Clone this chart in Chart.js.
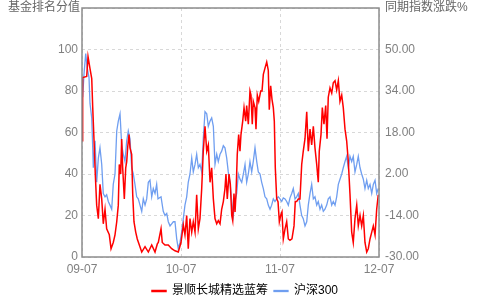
<!DOCTYPE html>
<html>
<head>
<meta charset="utf-8">
<script src="https://cdn.jsdelivr.net/npm/chart.js@4/dist/chart.umd.min.js"></script>
<style>
  html, body { margin: 0; padding: 0; background: #fff; }
  #wrap { width: 490px; height: 300px; position: relative; }
</style>
</head>
<body>
<div id="wrap"><canvas id="chart"></canvas></div>
<script>
// x = months since 2009-07
const tickLabels = ["09-07", "10-07", "11-07", "12-07"];
const seriesNames = ["景顺长城精选蓝筹", "沪深300"];
const axisTitles = ["基金排名分值", "同期指数涨跌%"];

// fund ranking score (left axis, 0-100)
const fundMonths = [0,0.08,0.57,0.73,0.97,1.18,1.3,1.45,1.61,1.78,1.98,2.18,2.39,2.58,2.79,2.99,3.31,3.52,3.79,4,4.21,4.4,4.52,4.69,4.81,4.93,5.13,5.3,5.42,5.54,5.7,5.82,6.02,6.15,6.3,6.51,6.7,6.95,7.24,7.64,8.04,8.45,8.85,9.13,9.25,9.58,9.73,10.06,10.46,10.87,11.27,11.67,12,12.28,12.48,12.69,12.88,13.09,13.3,13.49,13.7,13.9,14.1,14.3,14.51,14.7,14.91,15.12,15.31,15.52,15.72,15.92,16.12,16.33,16.52,16.73,16.93,17.13,17.33,17.45,17.61,17.82,17.98,18.15,18.27,18.42,18.55,18.67,18.82,18.99,19.15,19.27,19.48,19.64,19.84,19.96,20.16,20.36,20.48,20.64,20.76,20.97,21.09,21.25,21.42,21.66,21.82,21.98,22.18,22.39,22.58,22.7,22.87,23.03,23.19,23.31,23.43,23.6,23.76,23.92,24.08,24.24,24.4,24.61,24.81,25.01,25.21,25.45,25.7,25.85,26.02,26.22,26.42,26.63,26.82,27.03,27.24,27.43,27.64,27.84,28.04,28.24,28.45,28.64,28.76,28.97,29.13,29.33,29.54,29.7,29.85,30.06,30.27,30.46,30.67,30.87,31.07,31.27,31.48,31.67,31.88,32.08,32.28,32.48,32.69,32.88,33.09,33.3,33.49,33.7,33.9,34.1,34.3,34.51,34.7,34.91,35.12,35.31,35.52,35.72,35.91];
const fundScores = [56,86.5,87,96.6,90.8,86,72,57,40,25,18.5,35,28,16,23,13.6,10.7,4,7,10.7,17,25,44.6,40,56.8,43,28,43,46,53,59,52.6,49.5,30,17,12,8.7,5.8,2.4,5,2.4,5.8,2.4,6.3,7,13.6,7,5.8,5.8,4,3,2.4,7,15.5,10.7,20,4,18.5,12,17,12,30,13.6,18.5,33,51,63,51,54,36,43,28,18.5,16,17.5,16,23,26.7,33,40,28,40,35,20,17.5,30.6,21.7,30.6,49.5,59,51,59,65.5,72,65.5,73,64,80,78,64,75,72,61.6,78,75,80,80,88,91,94,90,71,82.5,76,72,65.5,43,28,26.7,17,20,21.7,8.7,13.6,17,8.7,8,8.7,15,26.7,26.7,28,28,44.6,51,57,70,51,61.6,54,63,52.6,44.6,36,51,59,72,64,73,57,77,81.5,79,84,85,80.5,85,75,78,72,61.6,56,46,30.6,12,7,18.5,25,15,20,15,20,7,2.4,4,8.7,12,15,10.7,23,30];

// CSI 300 change over same period, % (right axis)
const indexMonths = [0.08,0.24,0.45,0.64,0.85,0.97,1.18,1.3,1.37,1.58,1.78,1.98,2.18,2.39,2.58,2.79,2.99,3.19,3.39,3.6,3.79,4,4.21,4.4,4.61,4.81,5.01,5.21,5.42,5.61,5.82,6.02,6.22,6.42,6.63,6.82,7.03,7.24,7.43,7.64,7.84,8.04,8.24,8.45,8.64,8.85,9.05,9.21,9.58,9.85,10.06,10.27,10.46,10.67,10.87,11.07,11.27,11.48,11.67,11.88,12.08,12.28,12.48,12.69,12.88,13.09,13.3,13.49,13.7,13.9,14.1,14.3,14.51,14.7,14.91,15.12,15.31,15.52,15.72,15.92,16.12,16.33,16.52,16.73,16.93,17.13,17.33,17.54,17.73,17.94,18.15,18.34,18.55,18.75,18.95,19.15,19.36,19.56,19.76,19.96,20.16,20.36,20.57,20.76,20.97,21.18,21.37,21.58,21.78,21.98,22.18,22.39,22.58,22.79,22.99,23.19,23.39,23.6,23.79,24,24.21,24.4,24.61,24.81,25.01,25.21,25.42,25.61,25.82,26.02,26.22,26.42,26.63,26.82,27.03,27.24,27.43,27.64,27.84,28.04,28.24,28.45,28.64,28.85,29.05,29.25,29.45,29.66,29.85,30.06,30.27,30.46,30.67,30.87,31.07,31.27,31.48,31.67,31.88,32.08,32.28,32.48,32.69,32.88,33.09,33.3,33.49,33.7,33.9,34.1,34.3,34.51,34.7,34.91,35.12,35.31,35.52,35.72,35.91];
const indexChanges = [31.6,40.4,48.4,42.8,39.2,29.2,23.6,12.1,4.4,14.8,-1.2,8.1,12.1,5.7,-5.5,-6.8,-6,-8.6,-10,-11.6,-2,2,18.6,22.4,25.2,13.2,9.6,6.8,14.8,18.6,15.6,4.4,2,-2,-6.8,-7.6,-10,-12.4,-7.6,-10,-7.6,-1.2,-0.4,-6.8,-3.6,-5.5,-2,-7.6,-6.8,-12.4,-14,-13.2,-16.4,-18,-17.2,-16.4,-16.4,-23,-26.8,-24.4,-20.4,-15.2,-10,-6.8,-1.2,2,8.1,2.8,5.7,9.6,4.4,5.7,2.8,15.6,26,25.2,20.4,22.4,23.6,20.4,5.7,9.6,6.8,9.6,10.8,12.9,12.1,8.1,2.8,-1.2,-8.6,-14,-8.6,-5.5,2,0,-1.2,2,5.7,-1.2,2,6.8,2.8,6.8,12.1,6.8,2.8,2,-1.2,-3.6,-6.8,-7.6,-10,-11.6,-10,-7.6,-8.6,-7.6,-6.8,-7.6,-8.6,-7.2,-7.6,-8.6,-10,-7.2,-5.5,-3.6,-7.6,-6.8,-5.5,-10,-14,-15.2,-18,-16.4,-10,-5.5,-2,-7.6,-6.8,-10,-8.6,-11.6,-10,-12.4,-11.6,-10,-7.6,-6.8,-10,-8.6,-10,-6.8,-2,0,2,4.4,6.8,8.8,4.4,8.8,6.8,8.8,2.8,5.7,8.8,4.4,2,0,-3.6,-0.4,-3.6,-2,-5.5,-2,-0.4,-5.5,-3.6];

const FONT = 'Liberation Sans, "Noto Sans CJK SC", sans-serif';
const GREY = '#808080';

const fundData = fundMonths.map((m, i) => ({ x: m, y: fundScores[i] }));
const indexData = indexMonths.map((m, i) => ({ x: m, y: indexChanges[i] }));

// frame and the two axis titles
const framePlugin = {
    id: 'frame',
    afterDraw(chart) {
        const ctx = chart.ctx, a = chart.chartArea;
        ctx.save();
        ctx.strokeStyle = '#8c8c8c';
        ctx.lineWidth = 1.5;
        ctx.strokeRect(a.left, a.top, a.right - a.left, a.bottom - a.top);
        ctx.fillStyle = '#666';
        ctx.font = '12px ' + FONT;
        ctx.textBaseline = 'middle';
        ctx.textAlign = 'left';
        ctx.fillText(axisTitles[0], 8, 8);
        ctx.fillText(axisTitles[1], 385, 8);
        ctx.restore();
    }
};

// y axes: fixed width, no extra label padding at the ends
const fitY = w => s => { s.width = w; s.paddingTop = 0; s.paddingBottom = 0; };

new Chart(document.getElementById('chart'), {
    type: 'line',
    data: {
        datasets: [{
            label: seriesNames[0],
            data: fundData,
            yAxisID: 'y',
            borderColor: '#ff0000',
            backgroundColor: '#ff0000',
            borderWidth: 1.5,
            pointRadius: 0,
            tension: 0
        }, {
            label: seriesNames[1],
            data: indexData,
            yAxisID: 'y1',
            borderColor: '#6f9ef0',
            backgroundColor: '#6f9ef0',
            borderWidth: 1.3,
            pointRadius: 0,
            tension: 0
        }]
    },
    options: {
        responsive: true,
        maintainAspectRatio: false,
        animation: false,
        layout: { padding: { top: 8, left: 0, right: 0, bottom: -7 } },
        scales: {
            x: {
                type: 'linear',
                min: 0, max: 36,
                afterFit: s => { s.height = 22; },
                afterBuildTicks: s => { s.ticks = tickLabels.map((t, i) => ({ value: i * 12 })); },
                ticks: {
                    color: GREY, font: { family: FONT, size: 12 }, padding: 5, maxRotation: 0,
                    callback: v => tickLabels[v / 12]
                },
                grid: { color: '#d8d8d8', drawTicks: false, tickLength: 0 },
                border: { display: false, dash: [3, 3] }
            },
            y: {
                position: 'left',
                min: 0, max: 120,
                afterFit: fitY(82),
                afterBuildTicks: s => { s.ticks = [0, 20, 40, 60, 80, 100, 120].map(v => ({ value: v })); },
                ticks: {
                    color: GREY, font: { family: FONT, size: 12 }, padding: 4,
                    callback: v => v > 100 ? '' : v
                },
                grid: { color: '#d8d8d8', drawTicks: false, tickLength: 0 },
                border: { display: false, dash: [3, 3] }
            },
            y1: {
                position: 'right',
                min: -30, max: 66,
                afterFit: fitY(111),
                afterBuildTicks: s => { s.ticks = [-30, -14, 2, 18, 34, 50, 66].map(v => ({ value: v })); },
                ticks: {
                    color: GREY, font: { family: FONT, size: 12 }, padding: 6,
                    callback: v => v > 50 ? '' : v.toFixed(2)
                },
                grid: { drawOnChartArea: false, drawTicks: false, tickLength: 0 },
                border: { display: false }
            }
        },
        plugins: {
            legend: {
                position: 'bottom',
                labels: {
                    color: '#000', font: { family: FONT, size: 12 },
                    boxWidth: 14, boxHeight: 1, padding: 6
                }
            },
            tooltip: { enabled: false }
        }
    },
    plugins: [framePlugin]
});
</script>
</body>
</html>
